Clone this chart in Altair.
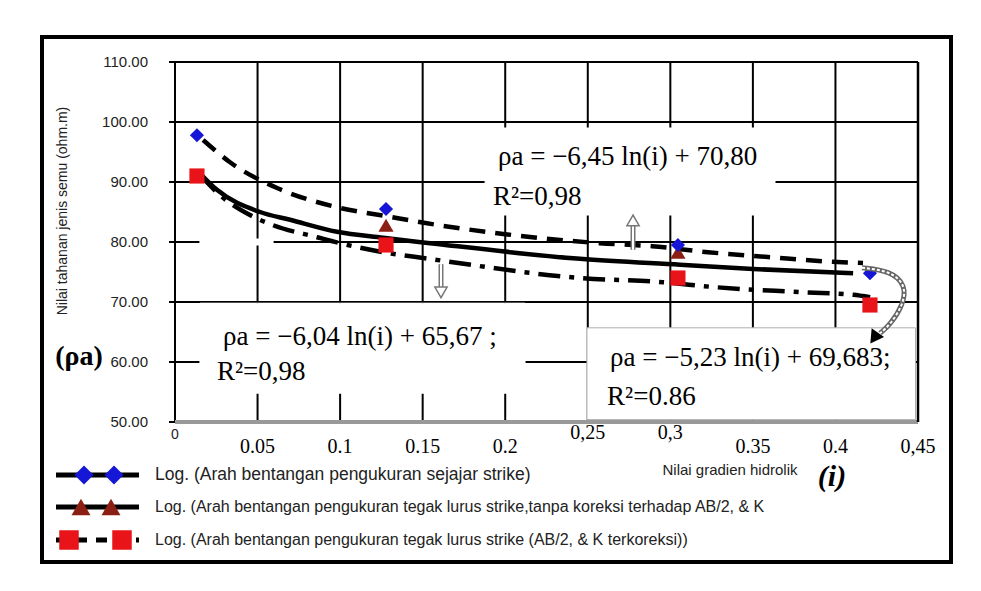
import altair as alt
import pandas as pd

# ---------------- data ----------------
X_TICKS = [0, 0.05, 0.1, 0.15, 0.2, 0.25, 0.3, 0.35, 0.4, 0.45]
X_TICK_LABELS = ["0", "0.05", "0.1", "0.15", "0.2", "0,25", "0,3", "0.35", "0.4", "0,45"]
Y_TICKS = [50, 60, 70, 80, 90, 100, 110]
V_GRID = [0.05, 0.1, 0.15, 0.2, 0.25, 0.3, 0.35, 0.4]
H_GRID = [60, 70, 80, 90, 100, 110]

# measured points
sejajar_x = [0.0133, 0.1278, 0.3046, 0.4209]
sejajar_y = [97.8, 85.5, 79.5, 74.8]
tegak_x = [0.0133, 0.1278, 0.3046]
tegak_y = [91.0, 82.8, 78.3]
koreksi_x = [0.0133, 0.1278, 0.3046, 0.4209]
koreksi_y = [91.0, 79.5, 74.0, 69.5]

# fitted log curves
fit_dash_x = [0.017, 0.0333, 0.0618, 0.0981, 0.1302, 0.1508, 0.2, 0.2574, 0.2889, 0.3228, 0.3592, 0.398, 0.4167]
fit_dash_y = [97.0, 93.3, 89.0, 85.8, 84.2, 83.2, 81.3, 79.8, 79.3, 78.3, 77.5, 76.7, 76.5]
fit_solid_x = [0.0139, 0.0254, 0.0515, 0.0697, 0.0981, 0.126, 0.1545, 0.2453, 0.3059, 0.3501, 0.4107]
fit_solid_y = [91.8, 88.7, 85.0, 83.7, 81.7, 80.7, 79.8, 77.2, 76.2, 75.5, 74.8]
fit_dd_x = [0.0151, 0.0273, 0.0454, 0.0594, 0.086, 0.0999, 0.126, 0.1514, 0.2453, 0.2956, 0.3259, 0.3743, 0.4107, 0.421]
fit_dd_y = [91.2, 87.8, 84.5, 82.8, 80.8, 79.8, 78.3, 77.3, 74.0, 73.3, 72.5, 71.7, 71.2, 70.8]

# equation annotations
eq_text = ["ρa = −6,45 ln(i) + 70,80", "R²=0,98",
           "ρa = −6,04 ln(i) + 65,67 ;", "R²=0,98",
           "ρa = −5,23 ln(i) + 69,683;", "R²=0.86"]
eq_x = [0.1956, 0.1926, 0.0291, 0.0254, 0.2635, 0.2617]
eq_y = [94.2, 87.5, 64.2, 58.3, 60.7, 54.2]

# white label boxes (the last one is a small gap in the 80 grid line)
box_x = [0.1878, 0.0151, 0.2495, 0.0151]
box_x2 = [0.3634, 0.212, 0.4485, 0.0594]
box_y = [99.0, 69.8, 65.7, 80.5]
box_y2 = [84.5, 54.8, 50.4, 79.5]
box_stroke = ["white", "white", "#b0b0b0", "white"]

# arrows
up_arrow_x = [0.2774]
up_arrow_y = [78.7]
up_arrow_y2 = [83.0]
up_head_y = [83.6]
down_arrow_x = [0.1611]
down_arrow_y = [76.3]
down_arrow_y2 = [72.3]
down_head_y = [71.6]
curve_arrow_x = [0.4161, 0.4331, 0.4428, 0.441, 0.4331, 0.427]
curve_arrow_y = [75.7, 75.2, 72.8, 69.5, 66.2, 64.8]
curve_head = (0.4234, 64.0)

legend_labels = [
    "Log. (Arah bentangan pengukuran sejajar strike)",
    "Log. (Arah bentangan pengukuran tegak lurus strike,tanpa koreksi terhadap AB/2,  & K",
    "Log. (Arah bentangan pengukuran tegak lurus strike (AB/2, & K terkoreksi))",
]

Y_TITLE = "Nilai tahanan jenis semu  (ohm.m)"
X_TITLE = "Nilai gradien hidrolik"

BLUE = "#1616d6"
BROWN = "#8b1f14"
RED = "#e8141a"
SANS = "Liberation Sans, Arial, sans-serif"
SERIF = "Liberation Serif, Times New Roman, serif"

# ---------------- scales ----------------
xs = alt.Scale(domain=[0, 0.45], nice=False, zero=False)
ys = alt.Scale(domain=[50, 110], nice=False, zero=False)


def X(f="x"):
    return alt.X(f"{f}:Q", scale=xs, axis=None)


def Y(f="y"):
    return alt.Y(f"{f}:Q", scale=ys, axis=None)


one = pd.DataFrame({"k": [0]})

# ---------------- frame & grid ----------------
frame = alt.Chart(one).mark_rect(fill="white", fillOpacity=0, stroke="black", strokeWidth=4).encode(
    x=alt.value(-133), x2=alt.value(776), y=alt.value(-25), y2=alt.value(500))

vgrid = alt.Chart(pd.DataFrame({"x": V_GRID})).mark_rule(color="black", strokeWidth=2).encode(x=X())
hgrid = alt.Chart(pd.DataFrame({"y": H_GRID})).mark_rule(color="black", strokeWidth=2).encode(y=Y())

boxes_df = pd.DataFrame({"x": box_x, "x2": box_x2, "y": box_y, "y2": box_y2, "s": box_stroke})
boxes = alt.Chart(boxes_df).mark_rect(fill="white", strokeWidth=1).encode(
    x=X(), x2="x2:Q", y=Y(), y2="y2:Q", stroke=alt.Stroke("s:N", scale=None))

# ---------------- axes drawn from the tick lists ----------------
y_dom = alt.Chart(pd.DataFrame({"x": [0], "y": [50], "y2": [110]})).mark_rule(
    color="black", strokeWidth=2).encode(x=X(), y=Y(), y2="y2:Q")
y_ticks = alt.Chart(pd.DataFrame({"y": Y_TICKS})).mark_rule(color="black", strokeWidth=2).encode(
    x=alt.value(-6), x2=alt.value(0), y=Y())
y_labels = alt.Chart(pd.DataFrame({"y": Y_TICKS})).mark_text(
    font=SANS, fontSize=15, align="right", baseline="middle", color="#222222").encode(
    x=alt.value(-27), y=Y(), text=alt.Text("y:Q", format=".2f"))
x_dom = alt.Chart(pd.DataFrame({"x": [0], "x2": [0.45], "y": [50]})).mark_rule(
    color="#999999", strokeWidth=4).encode(x=X(), x2="x2:Q", y=Y())
xl_df = pd.DataFrame({"x": X_TICKS, "t": X_TICK_LABELS})
x_labels_low = alt.Chart(pd.concat([xl_df.iloc[1:5], xl_df.iloc[7:]])).mark_text(
    font=SERIF, fontSize=20, align="center", baseline="top", color="black").encode(
    x=X(), y=alt.value(375), text="t:N")
x_labels_high = alt.Chart(xl_df.iloc[5:7]).mark_text(
    font=SERIF, fontSize=20, align="center", baseline="top", color="black").encode(
    x=X(), y=alt.value(361), text="t:N")
x_label0 = alt.Chart(xl_df.iloc[:1]).mark_text(
    font=SANS, fontSize=14, align="center", baseline="top", color="#222222").encode(
    x=X(), y=alt.value(366), text="t:N")

y_title = alt.Chart(pd.DataFrame({"t": [Y_TITLE]})).mark_text(
    font=SANS, fontSize=14, angle=270, align="center", baseline="middle", color="#222222").encode(
    x=alt.value(-112), y=alt.value(149), text="t:N")
x_title = alt.Chart(pd.DataFrame({"t": [X_TITLE]})).mark_text(
    font=SANS, fontSize=15, align="center", baseline="middle", color="#222222").encode(
    x=alt.value(555), y=alt.value(408), text="t:N")


# ---------------- curves & points ----------------
def curve(xv, yv, dash):
    df = pd.DataFrame({"x": xv, "y": yv})
    kw = dict(color="black", strokeWidth=4.5, interpolate="monotone")
    if dash:
        kw["strokeDash"] = dash
    return alt.Chart(df).mark_line(**kw).encode(x=X(), y=Y())


c_dash = curve(fit_dash_x, fit_dash_y, [16, 10])
c_solid = curve(fit_solid_x, fit_solid_y, None)
c_dd = curve(fit_dd_x, fit_dd_y, [22, 9, 5, 9])


def pts(xv, yv, shape, color, size):
    df = pd.DataFrame({"x": xv, "y": yv})
    return alt.Chart(df).mark_point(shape=shape, filled=True, color=color, size=size, opacity=1).encode(
        x=X(), y=Y())


p_tri = pts(tegak_x, tegak_y, "triangle-up", BROWN, 230)
p_sq = pts(koreksi_x, koreksi_y, "square", RED, 230)
p_dia = pts(sejajar_x, sejajar_y, "diamond", BLUE, 200)


def hollow_arrow(xv, y1, y2, head_y, shape):
    df = pd.DataFrame({"x": xv, "y": y1, "y2": y2})
    outer = alt.Chart(df).mark_rule(color="#777777", strokeWidth=5).encode(x=X(), y=Y(), y2="y2:Q")
    inner = alt.Chart(df).mark_rule(color="white", strokeWidth=2).encode(x=X(), y=Y(), y2="y2:Q")
    hd = pd.DataFrame({"x": xv, "y": head_y})
    head = alt.Chart(hd).mark_point(shape=shape, filled=True, fill="white", stroke="#777777",
                                    strokeWidth=1.5, size=150, opacity=1).encode(x=X(), y=Y())
    return [outer, inner, head]


up = hollow_arrow(up_arrow_x, up_arrow_y, up_arrow_y2, up_head_y, "triangle-up")
down = hollow_arrow(down_arrow_x, down_arrow_y, down_arrow_y2, down_head_y, "triangle-down")

ca_df = pd.DataFrame({"x": curve_arrow_x, "y": curve_arrow_y, "o": list(range(len(curve_arrow_x)))})
ca_outer = alt.Chart(ca_df).mark_line(color="#666666", strokeWidth=5, interpolate="basis").encode(
    x=X(), y=Y(), order="o:Q")
ca_inner = alt.Chart(ca_df).mark_line(color="white", strokeWidth=2, strokeDash=[3, 2],
                                      interpolate="basis").encode(x=X(), y=Y(), order="o:Q")
ca_head = alt.Chart(pd.DataFrame({"x": [curve_head[0]], "y": [curve_head[1]]})).mark_point(
    shape="triangle-down", filled=True, color="black", size=230, angle=35, opacity=1).encode(
    x=X(), y=Y())

right_border = alt.Chart(pd.DataFrame({"x": [0.45]})).mark_rule(color="black", strokeWidth=2.5).encode(
    x=X())

eq = alt.Chart(pd.DataFrame({"x": eq_x, "y": eq_y, "t": eq_text})).mark_text(
    font=SERIF, fontSize=27, align="left", baseline="middle", color="black").encode(
    x=X(), y=Y(), text="t:N")

# ---------------- legend (drawn below the plot) ----------------
legend_layers = []
row_y = [413, 445, 478]
marker_x = [[-91, -61], [-94, -64], [-106, -53]]
shapes = ["diamond", "triangle-up", "square"]
colors = [BLUE, BROWN, RED]
sizes = [360, 360, 380]
dashes = [None, None, [11, 9]]
fsizes = [17.5, 16, 16]
for i in range(3):
    kw = dict(color="black", strokeWidth=5)
    if dashes[i]:
        kw["strokeDash"] = dashes[i]
    legend_layers.append(alt.Chart(one).mark_rule(**kw).encode(
        x=alt.value(-119), x2=alt.value(-36), y=alt.value(row_y[i])))
    for mx in marker_x[i]:
        legend_layers.append(alt.Chart(one).mark_point(
            shape=shapes[i], filled=True, color=colors[i], size=sizes[i], opacity=1).encode(
            x=alt.value(mx), y=alt.value(row_y[i])))
    legend_layers.append(alt.Chart(pd.DataFrame({"t": [legend_labels[i]]})).mark_text(
        font=SANS, fontSize=fsizes[i], align="left", baseline="middle", color="#222222").encode(
        x=alt.value(-20), y=alt.value(row_y[i]), text="t:N"))

rho_label = alt.Chart(pd.DataFrame({"t": ["(ρa)"]})).mark_text(
    font=SERIF, fontSize=28, fontWeight="bold", align="center", baseline="middle", color="black").encode(
    x=alt.value(-96), y=alt.value(295), text="t:N")
i_label = alt.Chart(pd.DataFrame({"t": ["(i)"]})).mark_text(
    font=SERIF, fontSize=30, fontWeight="bold", fontStyle="italic", align="center",
    baseline="middle", color="black").encode(
    x=alt.value(657), y=alt.value(415), text="t:N")

chart = alt.layer(
    frame, vgrid, hgrid, boxes, y_dom, y_ticks, y_labels, x_dom,
    x_labels_low, x_labels_high, x_label0, y_title, x_title,
    c_dash, c_solid, c_dd, p_tri, p_sq, p_dia,
    *up, *down, ca_outer, ca_inner, ca_head, right_border, eq,
    *legend_layers, rho_label, i_label,
).properties(
    width=743, height=360,
    padding={"left": 175, "top": 62, "right": 63, "bottom": 169},
    autosize=alt.AutoSizeParams(type="none"),
    background="white",
).configure_view(stroke=None)

chart.save("out.html", embed_options={"renderer": "svg", "actions": False})
